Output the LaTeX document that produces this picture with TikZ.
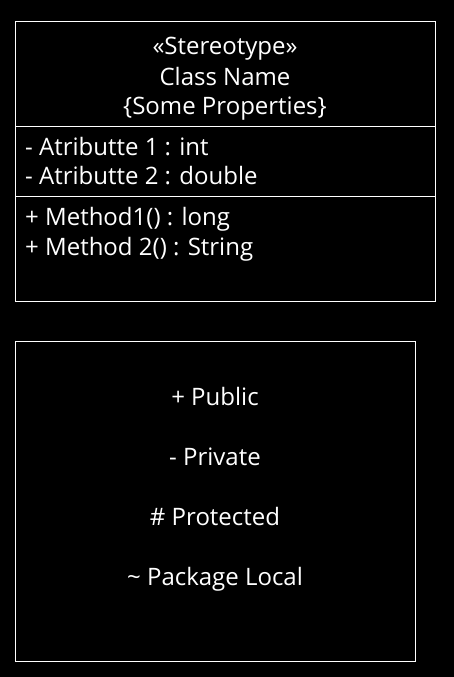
\documentclass[tikz,border=0pt]{standalone}
\usepackage{fontspec}
\setmainfont{Open Sans}
\usetikzlibrary{positioning}

\tikzset{
  umltext/.style={text=white, inner sep=0pt, font=\fontsize{24}{30}\selectfont},
  umlbox/.style={draw=white, line width=1pt}
}

\begin{document}
\begin{tikzpicture}[x=1pt, y=-1pt]
        \fill[black] (0,0) rectangle (454,677);
        % class box
        \draw[umlbox] (15.5,21.5) rectangle (435.5,301.5);
        \coordinate (divA) at (15.5,126.5); \coordinate (divAend) at (435.5,126.5);
        \coordinate (divB) at (15.5,196.5); \coordinate (divBend) at (435.5,196.5);
        \draw[umlbox] (divA) -- (divAend);
        \draw[umlbox] (divB) -- (divBend);
        \node[umltext, anchor=base] (stereo) at (225,54.5) {«Stereotype»};
        \node[umltext, anchor=base] (clname) at (225,85) {Class Name};
        \node[umltext, anchor=base] (props) at (225,114.5) {\{Some Properties\}};
        \node[umltext, anchor=base west] (attrA) at (25,155) {- Atributte 1 : int};
        \node[umltext, anchor=base west] (attrB) at (25,184) {- Atributte 2 : double};
        \node[umltext, anchor=base west] (methA) at (25,225) {+ Method1() : long};
        \node[umltext, anchor=base west] (methB) at (25,255) {+ Method 2() : String};
        % visibility box
        \draw[umlbox] (15.5,341.5) rectangle (415.5,661.5);
        \node[umltext, anchor=base] (public) at (215,405) {+ Public};
        \node[umltext, anchor=base] (private) at (215,465) {- Private};
        \node[umltext, anchor=base] (protected) at (215,525) {\# Protected};
        \node[umltext, anchor=base] (pkglocal) at (215,585) {\textasciitilde{} Package Local};
    \end{tikzpicture}
\end{document}
